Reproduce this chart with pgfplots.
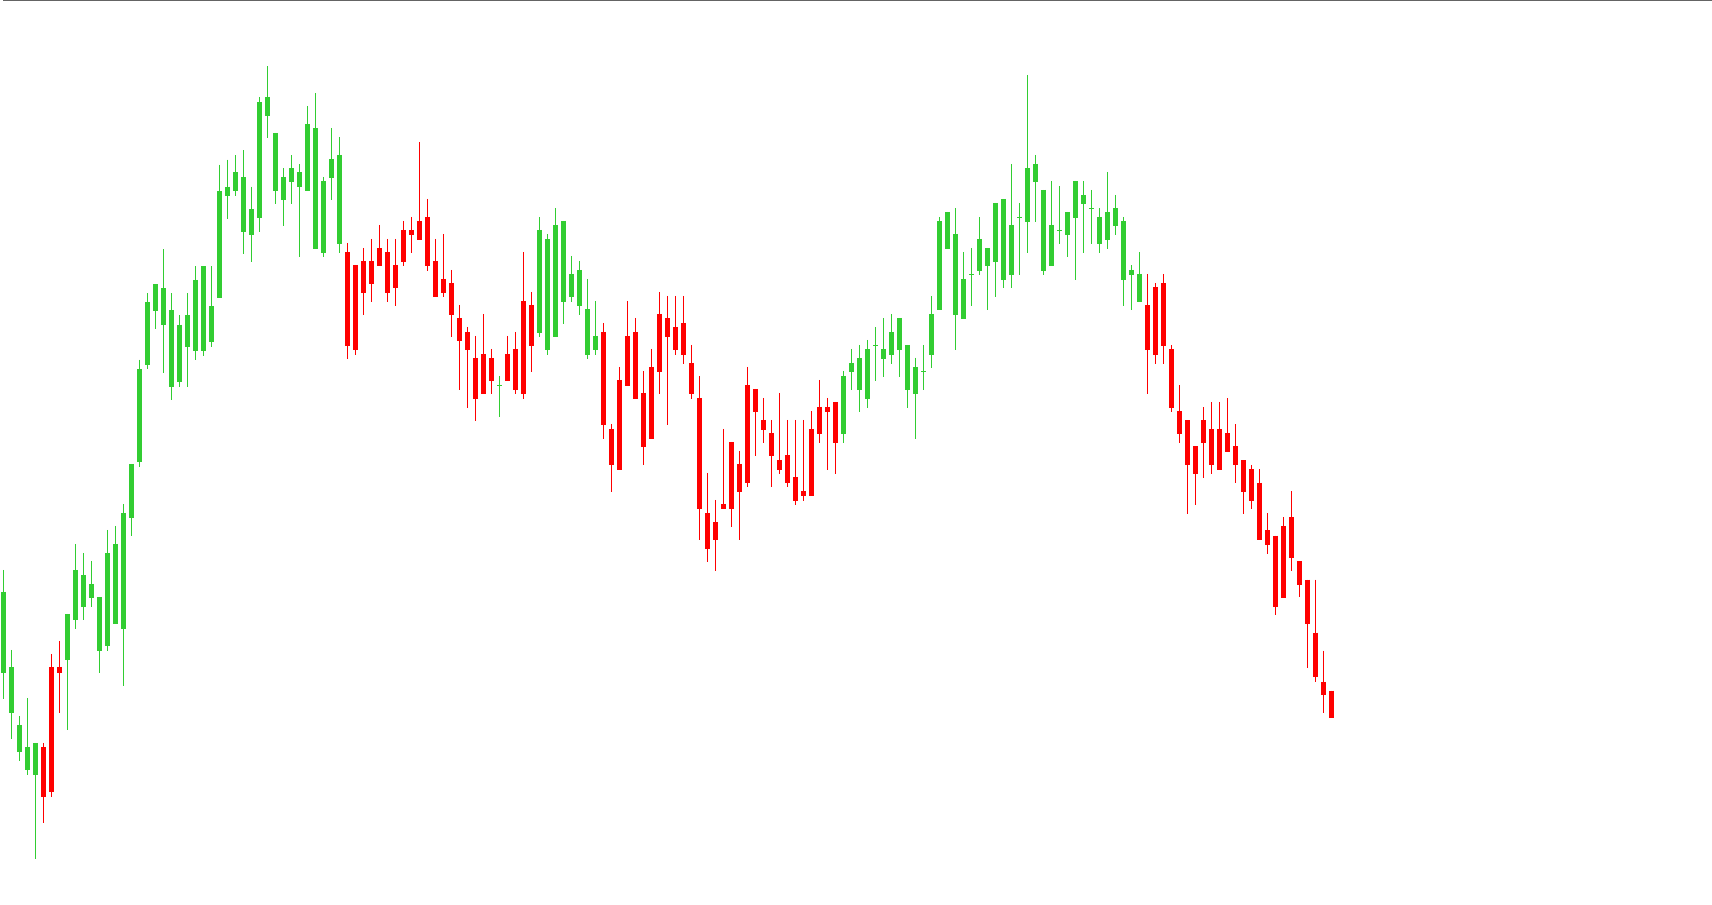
\documentclass[border=0pt]{standalone}
\usepackage{pgfplots}
\usepackage{pgfplotstable}
\pgfplotsset{compat=1.18}
\definecolor{cgreen}{RGB}{50,205,50}
\definecolor{cred}{RGB}{255,0,0}
\definecolor{cgray}{RGB}{100,100,100}
% columns: index, wick top, body top, body bottom, wick bottom (pixel rows from top)
\pgfplotstableread{
x wt bt bb wb
0 570 591.7 672.7 698.7
1 650 667 712.7 739
2 716 725 751.7 760.7
3 698 747 769.7 774.7
4 743 743 774.7 858.7
8 614 614 659.7 729.7
9 544 570 619.7 628.7
10 553 575 606.7 619.7
11 561 584 597.7 606.7
12 597 597 650.7 672.7
13 530 553 645.7 650.7
14 526 544 623.7 623.7
15 504 513 628.7 685.7
16 464 464 517.7 535.7
17 359.6 368.8 462.5 466.7
18 293.3 302 365 369.2
19 284.2 284.2 310.8 329.2
20 249.2 288.3 325 373.3
21 293.3 310.4 387.5 400.4
22 315.4 324.6 382 387.5
23 293.3 315.4 347 387.5
24 266.3 280 351.3 360
25 266.3 266.3 351.3 356.3
26 266.3 306.3 342 347
27 164.6 190.8 298 298
28 159.6 186.7 196.3 218.8
29 155.4 172.5 191.3 196.3
30 150.4 177.5 231.7 253.8
31 186.7 208.8 235.4 262.5
32 97 102 218.3 231.7
33 66.3 97 115.8 138
34 133 133 190.7 204
35 168 177 199.7 225.7
36 155.3 168 181.7 203.7
37 164.3 172 186.7 256.7
38 106 124 190.7 190.7
39 93 128 248.7 249
40 177 181 252.7 256.7
41 128 159 177.7 199.7
42 137 155 243.7 252.7
62 376 385 386 416.7
67 217 230 332.7 336.7
68 234 239 349.7 354.7
69 208 225 336.7 336.7
70 221 221 301.7 323.7
71 256 274 296.7 301.7
72 261 270 305.7 314.7
73 279 309 354.7 358.7
74 301 336 349.7 354.7
105 371 376 433.7 442.7
106 349 363 371.7 389.7
107 345 358 389.7 411.7
108 340 349 398.7 407.7
109 327 345 346 380.7
110 318 349 358.7 376.7
111 314 332 354.7 363.7
112 318 318 349.7 376.7
113 345 345 389.7 407.7
114 357.7 367 393.7 438.7
115 345 371 372 389.7
116 296 314 354.7 367.7
117 217 221 309.7 309.7
118 212 212 248.7 248.7
119 208 234 315 349.7
120 252 279 318.7 318.7
121 248 274 275 305.7
122 217 239 270.7 274.7
123 248 248 265.7 309.7
124 203 203 261.7 296.7
125 199 199 279.7 287.7
126 164 225 274.7 287.7
127 203 217 218 274.7
128 75 168 221.7 252.7
129 155 164 181.7 221.7
130 190 190 270.7 274.7
131 181 225 265.7 265.7
132 186 230 231 243.7
133 212 212 234.7 256.7
134 181 181 217.7 279.7
135 181 195 203.7 252.7
136 190 208 209 243.7
137 208 217 243.7 252.7
138 172 212 239.7 248.7
139 195 208 225.7 234.7
140 217 221.1 279.6 305.9
141 265.2 270 274.8 310
142 252.2 274 301.9 301.9
}\greentab
\pgfplotstableread{
x wt bt bb wb
5 743 747 796.7 822.7
6 654 667 791.7 796.7
7 641 667 672.7 712.7
43 243 252 345.7 358.7
44 265 265 349.7 354.7
45 248 261 292.7 314.7
46 239 261 283.7 301.7
47 225 248 265.7 265.7
48 239 252 292.7 301.7
49 239 265 287.7 305.7
50 221 230 261.7 265.7
51 217 230 234.7 252.7
52 142 221 239.7 239.7
53 199 217 265.7 270.7
54 239 261 296.7 296.7
55 234 279 292.7 296.7
56 270 283 314.7 336.7
57 305 318 340.7 389.7
58 327 332 349.7 407.7
59 336 358 398.7 420.7
60 314 354 393.7 394
61 349 358 380.7 394
63 336 354 380.7 380.7
64 332 349 389.7 394
65 252 301 393.7 398.7
66 292 305 345.7 371.7
75 323 332 424.7 438.7
76 424 429 464.7 491.7
77 367 380 469.7 469.7
78 301 336 385.7 385.7
79 318 332 398.7 398.7
80 371 393 446.7 464.7
81 349 367 438.7 438.7
82 292 314 371.7 394
83 296 318 336.7 424.7
84 296 327 349.7 354.7
85 296 323 354.7 363.7
86 345 363 393.7 398.7
87 376 398 508.7 539.7
88 473 513 548.7 561.7
89 500 522 539.7 570.7
90 429 504 508.7 508.7
91 442 442 508.7 526.7
92 451 464 491.7 539.7
93 367 385 482.7 486.7
94 389 389 411.7 455.7
95 398 420 429.7 442.7
96 420 433 455.7 486.7
97 393 460 469.7 473.7
98 420 455 482.7 486.7
99 420 477 500.7 504.7
100 420 491 495.7 500.7
101 411 429 495.7 495.7
102 380 407 433.7 442.7
103 398 407 411.7 469.7
104 402 402 442.7 473.7
143 274 305.2 350 394.4
144 283.3 287 354.8 364.1
145 274 283.3 345.9 364.1
146 345.2 349.3 407.8 411.9
147 385.2 411.5 434 443
148 420.4 420.4 465.2 514.1
149 446.3 446.3 474 505.2
150 407.4 420.4 443 478.1
151 402.2 429.3 465.2 474
152 402.2 429.3 470 470
153 398.1 433.3 451.9 451.9
154 424.4 446.3 465.2 483
155 460.4 460.4 492.2 514.1
156 464.8 469.3 501.1 509.3
157 469.3 482.6 540 540
158 513.3 530.4 545.2 554.1
159 535.6 535.6 607 615.2
160 517.4 526.3 598.1 598.1
161 491.5 517.4 558.1 571.1
162 561.5 561.5 585.2 597.4
163 579.6 579.6 624.1 667.8
164 579.6 632.6 677.4 682.2
165 650.7 681.9 695.2 713
166 690.7 690.7 717.9 717.9
}\redtab
\begin{document}
\begin{tikzpicture}
\begin{axis}[
  at={(0,0)}, anchor=south west,
  width=856bp, height=452.5bp, scale only axis,
  xmin=-0.4125, xmax=213.5875,
  ymin=0, ymax=905,
  hide axis, clip=false,
]
% wicks
\addplot[cgreen, line width=0.5bp, no marks,
  quiver={u=0, v=\thisrow{wt}-\thisrow{wb}}]
  table[x=x, y expr=905-\thisrow{wt}] {\greentab};
\addplot[cred, line width=0.5bp, no marks,
  quiver={u=0, v=\thisrow{wt}-\thisrow{wb}}]
  table[x=x, y expr=905-\thisrow{wt}] {\redtab};
% bodies
\addplot[cgreen, line width=2.5bp, no marks,
  quiver={u=0, v=\thisrow{bt}-\thisrow{bb}}]
  table[x=x, y expr=905-\thisrow{bt}] {\greentab};
\addplot[cred, line width=2.5bp, no marks,
  quiver={u=0, v=\thisrow{bt}-\thisrow{bb}}]
  table[x=x, y expr=905-\thisrow{bt}] {\redtab};
\draw[cgray, line width=0.75bp] (rel axis cs:0,1) ++(0,-0.375bp) -- ++(856bp,0);
\end{axis}
\pgfresetboundingbox
\useasboundingbox (0,0) rectangle (856bp,452.5bp);
\end{tikzpicture}
\end{document}
